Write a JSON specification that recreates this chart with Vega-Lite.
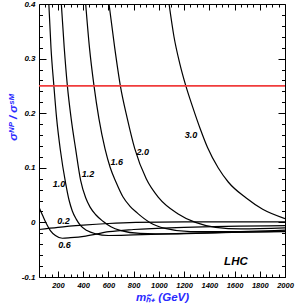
{
  "$schema": "https://vega.github.io/schema/vega-lite/v6.json",
  "width": 246,
  "height": 273,
  "autosize": {"type": "none"},
  "padding": {"left": 39, "top": 4, "right": 11, "bottom": 28},
  "background": "white",
  "config": {
    "view": {"stroke": "black", "strokeWidth": 1},
    "axis": {"domain": false, "grid": false, "labelFont": "Liberation Sans", "labelFontStyle": "italic", "labelFontWeight": "bold", "labelColor": "black", "tickColor": "black", "titleFont": "Liberation Sans", "titleFontStyle": "italic", "titleFontWeight": "bold", "titleColor": "#2a2aff"}
  },
  "datasets": {
    "curves": [
      {"m": 1081, "v": 0.40, "c": "3.0"}, {"m": 1120, "v": 0.34, "c": "3.0"}, {"m": 1167, "v": 0.29, "c": "3.0"}, {"m": 1214, "v": 0.25, "c": "3.0"}, {"m": 1267, "v": 0.212, "c": "3.0"}, {"m": 1330, "v": 0.17, "c": "3.0"}, {"m": 1386, "v": 0.137, "c": "3.0"}, {"m": 1470, "v": 0.10, "c": "3.0"}, {"m": 1550, "v": 0.074, "c": "3.0"}, {"m": 1690, "v": 0.045, "c": "3.0"}, {"m": 1823, "v": 0.024, "c": "3.0"}, {"m": 2000, "v": 0.007, "c": "3.0"},
      {"m": 605, "v": 0.40, "c": "2.0"}, {"m": 650, "v": 0.32, "c": "2.0"}, {"m": 695, "v": 0.25, "c": "2.0"}, {"m": 750, "v": 0.19, "c": "2.0"}, {"m": 809, "v": 0.135, "c": "2.0"}, {"m": 900, "v": 0.08, "c": "2.0"}, {"m": 1000, "v": 0.045, "c": "2.0"}, {"m": 1150, "v": 0.016, "c": "2.0"}, {"m": 1290, "v": 0.0, "c": "2.0"}, {"m": 1450, "v": -0.009, "c": "2.0"}, {"m": 1650, "v": -0.012, "c": "2.0"}, {"m": 2000, "v": -0.01, "c": "2.0"},
      {"m": 420, "v": 0.40, "c": "1.6"}, {"m": 450, "v": 0.32, "c": "1.6"}, {"m": 486, "v": 0.25, "c": "1.6"}, {"m": 525, "v": 0.19, "c": "1.6"}, {"m": 573, "v": 0.135, "c": "1.6"}, {"m": 615, "v": 0.10, "c": "1.6"}, {"m": 660, "v": 0.074, "c": "1.6"}, {"m": 715, "v": 0.047, "c": "1.6"}, {"m": 770, "v": 0.03, "c": "1.6"}, {"m": 830, "v": 0.017, "c": "1.6"}, {"m": 928, "v": 0.0, "c": "1.6"}, {"m": 1050, "v": -0.011, "c": "1.6"}, {"m": 1250, "v": -0.017, "c": "1.6"}, {"m": 1500, "v": -0.017, "c": "1.6"}, {"m": 2000, "v": -0.014, "c": "1.6"},
      {"m": 227, "v": 0.40, "c": "1.2"}, {"m": 250, "v": 0.32, "c": "1.2"}, {"m": 275, "v": 0.25, "c": "1.2"}, {"m": 305, "v": 0.19, "c": "1.2"}, {"m": 340, "v": 0.135, "c": "1.2"}, {"m": 380, "v": 0.077, "c": "1.2"}, {"m": 420, "v": 0.045, "c": "1.2"}, {"m": 455, "v": 0.028, "c": "1.2"}, {"m": 500, "v": 0.014, "c": "1.2"}, {"m": 557, "v": 0.002, "c": "1.2"}, {"m": 620, "v": -0.008, "c": "1.2"}, {"m": 700, "v": -0.015, "c": "1.2"}, {"m": 850, "v": -0.02, "c": "1.2"}, {"m": 1100, "v": -0.021, "c": "1.2"}, {"m": 1500, "v": -0.019, "c": "1.2"}, {"m": 2000, "v": -0.016, "c": "1.2"},
      {"m": 128, "v": 0.40, "c": "1.0"}, {"m": 145, "v": 0.32, "c": "1.0"}, {"m": 168, "v": 0.25, "c": "1.0"}, {"m": 190, "v": 0.19, "c": "1.0"}, {"m": 219, "v": 0.133, "c": "1.0"}, {"m": 261, "v": 0.072, "c": "1.0"}, {"m": 288, "v": 0.041, "c": "1.0"}, {"m": 314, "v": 0.021, "c": "1.0"}, {"m": 345, "v": 0.006, "c": "1.0"}, {"m": 380, "v": -0.006, "c": "1.0"}, {"m": 430, "v": -0.015, "c": "1.0"}, {"m": 500, "v": -0.021, "c": "1.0"}, {"m": 600, "v": -0.024, "c": "1.0"}, {"m": 800, "v": -0.023, "c": "1.0"}, {"m": 1200, "v": -0.02, "c": "1.0"}, {"m": 2000, "v": -0.017, "c": "1.0"},
      {"m": 50, "v": 0.028, "c": "0.6"}, {"m": 80, "v": 0.012, "c": "0.6"}, {"m": 110, "v": -0.003, "c": "0.6"}, {"m": 140, "v": -0.015, "c": "0.6"}, {"m": 180, "v": -0.024, "c": "0.6"}, {"m": 235, "v": -0.029, "c": "0.6"}, {"m": 300, "v": -0.028, "c": "0.6"}, {"m": 420, "v": -0.025, "c": "0.6"}, {"m": 605, "v": -0.017, "c": "0.6"}, {"m": 800, "v": -0.013, "c": "0.6"}, {"m": 1200, "v": -0.009, "c": "0.6"}, {"m": 2000, "v": -0.006, "c": "0.6"},
      {"m": 50, "v": -0.013, "c": "0.2"}, {"m": 200, "v": -0.009, "c": "0.2"}, {"m": 400, "v": -0.005, "c": "0.2"}, {"m": 600, "v": -0.002, "c": "0.2"}, {"m": 817, "v": 0.0, "c": "0.2"}, {"m": 1200, "v": 0.001, "c": "0.2"}, {"m": 2000, "v": 0.001, "c": "0.2"}
    ],
    "labels": [
      {"m": 1254, "v": 0.16, "t": "3.0", "s": 9},
      {"m": 873, "v": 0.129, "t": "2.0", "s": 9},
      {"m": 667, "v": 0.11, "t": "1.6", "s": 9},
      {"m": 438, "v": 0.089, "t": "1.2", "s": 9},
      {"m": 208, "v": 0.07, "t": "1.0", "s": 9},
      {"m": 245, "v": 0.003, "t": "0.2", "s": 9},
      {"m": 253, "v": -0.041, "t": "0.6", "s": 9},
      {"m": 1611, "v": -0.072, "t": "LHC", "s": 11.5}
    ]
  },
  "layer": [
    {
      "data": {"name": "curves"},
      "mark": {"type": "line", "color": "black", "strokeWidth": 1.2, "clip": true, "interpolate": "monotone"},
      "encoding": {
        "x": {"field": "m", "type": "quantitative", "scale": {"domain": [50, 2000], "nice": false, "zero": false},
          "axis": {"orient": "bottom", "values": [100,150,200,250,300,350,400,450,500,550,600,650,700,750,800,850,900,950,1000,1050,1100,1150,1200,1250,1300,1350,1400,1450,1500,1550,1600,1650,1700,1750,1800,1850,1900,1950,2000],
            "labelExpr": "datum.value % 200 === 0 ? '' + datum.value : ''",
            "tickSize": {"condition": {"test": "datum.value % 200 === 0", "value": -6}, "value": -3},
            "labelPadding": 10, "labelFontSize": 7.5, "labelFlush": false, "labelOverlap": false,
            "title": "mₕ̃₊ (GeV)", "titleFontSize": 11.5, "titleY": 23, "titleBaseline": "alphabetic"}},
        "y": {"field": "v", "type": "quantitative", "scale": {"domain": [-0.1, 0.4], "nice": false, "zero": false},
          "axis": {"orient": "left", "values": [-0.1,-0.08,-0.06,-0.04,-0.02,0,0.02,0.04,0.06,0.08,0.1,0.12,0.14,0.16,0.18,0.2,0.22,0.24,0.26,0.28,0.3,0.32,0.34,0.36,0.38,0.4],
            "labelExpr": "abs(datum.value*10 - round(datum.value*10)) < 1e-6 ? '' + datum.value : ''",
            "tickSize": {"condition": {"test": "abs(datum.value*10 - round(datum.value*10)) < 1e-6", "value": -7}, "value": -3.5},
            "labelPadding": 11, "labelFontSize": 8, "labelFlush": false, "labelOverlap": false,
            "title": "σᴺᴾ / σˢᴹ", "titleFontSize": 11.5, "titleAngle": -90, "titleX": -26, "titleY": 113, "titleAlign": "center", "titleBaseline": "middle"}},
        "detail": {"field": "c"}
      }
    },
    {
      "data": {"values": [{"r": 0.25}]},
      "mark": {"type": "rule", "color": "#f03c3c", "strokeWidth": 1.6},
      "encoding": {"y": {"field": "r", "type": "quantitative", "axis": null}}
    },
    {
      "data": {"name": "labels"},
      "mark": {"type": "text", "font": "Liberation Sans", "fontStyle": "italic", "fontWeight": "bold", "color": "black", "align": "center", "baseline": "middle"},
      "encoding": {
        "x": {"field": "m", "type": "quantitative",
          "axis": {"orient": "top", "values": [100,150,200,250,300,350,400,450,500,550,600,650,700,750,800,850,900,950,1000,1050,1100,1150,1200,1250,1300,1350,1400,1450,1500,1550,1600,1650,1700,1750,1800,1850,1900,1950],
            "labels": false, "title": null,
            "tickSize": {"condition": {"test": "datum.value % 200 === 0", "value": -6}, "value": -3}}},
        "y": {"field": "v", "type": "quantitative",
          "axis": {"orient": "right", "values": [-0.1,-0.08,-0.06,-0.04,-0.02,0,0.02,0.04,0.06,0.08,0.1,0.12,0.14,0.16,0.18,0.2,0.22,0.24,0.26,0.28,0.3,0.32,0.34,0.36,0.38,0.4],
            "labels": false, "title": null,
            "tickSize": {"condition": {"test": "abs(datum.value*10 - round(datum.value*10)) < 1e-6", "value": -7}, "value": -3.5}}},
        "text": {"field": "t"},
        "size": {"field": "s", "type": "quantitative", "scale": null}
      }
    }
  ],
  "resolve": {"axis": {"x": "independent", "y": "independent"}}
}
